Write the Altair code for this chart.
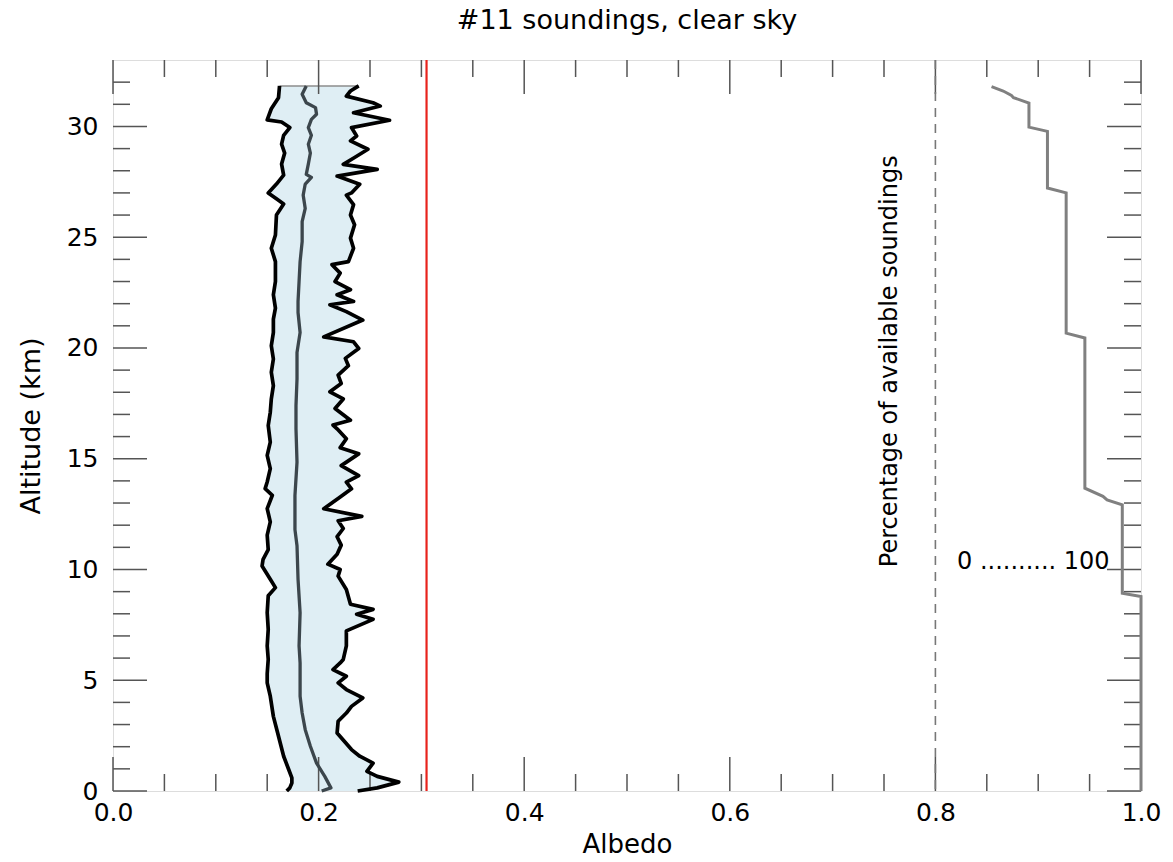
import altair as alt
import pandas as pd

# ---------------- data ----------------
left_alt = [31.83, 31.3, 30.8, 30.3, 30.2, 29.95, 29.6, 29.2, 28.8, 28.3, 27.8, 27.4, 27.0, 26.7,
            26.5, 26.0, 25.1, 24.5, 23.9, 23.0, 22.4, 21.8, 21.3, 20.7, 20.1, 19.5, 18.9, 18.3,
            17.7, 17.1, 16.5, 15.75, 15.15, 14.55, 13.95, 13.65, 13.35, 12.75, 12.15, 11.55,
            10.9, 10.46, 10.16, 9.56, 9.18, 8.81, 8.05, 7.3, 6.55, 5.94, 5.3, 4.88, 4.28, 3.37,
            2.47, 1.57, 0.96, 0.59, 0.36, 0.14, 0.0]
left_val = [0.162, 0.161, 0.154, 0.150, 0.164, 0.172, 0.166, 0.164, 0.167, 0.164, 0.166, 0.159,
            0.151, 0.160, 0.166, 0.159, 0.158, 0.154, 0.158, 0.158, 0.156, 0.158, 0.156, 0.156,
            0.154, 0.156, 0.154, 0.156, 0.154, 0.153, 0.151, 0.153, 0.150, 0.153, 0.150, 0.148,
            0.155, 0.150, 0.153, 0.150, 0.151, 0.146, 0.145, 0.153, 0.158, 0.151, 0.150, 0.151,
            0.150, 0.151, 0.150, 0.150, 0.153, 0.156, 0.161, 0.166, 0.171, 0.174, 0.174, 0.172,
            0.169]

med_alt = [31.83, 31.45, 31.07, 30.85, 30.55, 30.32, 29.95, 29.6, 29.2, 28.8, 28.3, 27.84, 27.7,
           27.4, 26.9, 26.3, 25.7, 24.8, 23.9, 23.0, 22.1, 21.6, 20.7, 19.8, 18.6, 17.4, 16.35,
           14.85, 13.34, 11.8, 11.07, 9.56, 8.05, 6.55, 5.78, 4.28, 3.52, 2.77, 2.02, 1.26, 0.66,
           0.14, 0.0]
med_val = [0.188, 0.184, 0.188, 0.197, 0.198, 0.193, 0.190, 0.193, 0.190, 0.192, 0.190, 0.188,
           0.193, 0.187, 0.185, 0.187, 0.184, 0.184, 0.182, 0.181, 0.180, 0.180, 0.182, 0.179,
           0.179, 0.178, 0.178, 0.179, 0.177, 0.177, 0.179, 0.180, 0.182, 0.181, 0.182, 0.182,
           0.184, 0.187, 0.192, 0.198, 0.206, 0.212, 0.203]

right_alt = [31.83, 31.6, 31.37, 31.07, 30.92, 30.62, 30.28, 29.95, 29.57, 29.35, 28.97, 28.6,
             28.29, 28.06, 27.76, 27.39, 27.0, 26.9, 26.47, 26.0, 25.56, 24.96, 24.5, 23.9,
             23.76, 23.38, 23.0, 22.63, 22.4, 22.1, 21.95, 21.64, 21.26, 20.5, 20.28, 19.98,
             19.53, 19.2, 18.77, 18.4, 18.02, 17.7, 17.27, 16.74, 16.52, 16.35, 15.9, 15.5,
             15.22, 14.69, 14.24, 13.94, 13.64, 13.27, 12.74, 12.4, 12.2, 11.85, 11.48, 11.1,
             10.69, 10.24, 10.0, 9.7, 9.1, 8.43, 8.2, 7.98, 7.75, 7.23, 6.55, 5.94, 5.78, 5.48,
             5.18, 4.88, 4.58, 4.2, 3.82, 3.52, 3.15, 2.62, 1.87, 1.57, 1.26, 0.89, 0.66, 0.4,
             0.14, 0.0]
right_val = [0.239, 0.231, 0.227, 0.253, 0.260, 0.234, 0.269, 0.232, 0.237, 0.231, 0.248, 0.235,
             0.224, 0.257, 0.218, 0.240, 0.232, 0.227, 0.234, 0.231, 0.235, 0.231, 0.234, 0.229,
             0.213, 0.221, 0.216, 0.231, 0.218, 0.234, 0.211, 0.227, 0.243, 0.205, 0.234, 0.239,
             0.226, 0.229, 0.219, 0.222, 0.211, 0.224, 0.216, 0.231, 0.214, 0.218, 0.227, 0.221,
             0.239, 0.222, 0.239, 0.227, 0.232, 0.221, 0.205, 0.242, 0.219, 0.224, 0.218, 0.222,
             0.218, 0.209, 0.221, 0.219, 0.227, 0.231, 0.253, 0.237, 0.253, 0.227, 0.227, 0.224,
             0.221, 0.214, 0.227, 0.219, 0.227, 0.243, 0.232, 0.227, 0.219, 0.218, 0.232, 0.240,
             0.253, 0.247, 0.257, 0.278, 0.257, 0.238]

pct_alt = [31.8, 31.6, 31.4, 31.3, 31.06, 29.97, 29.78, 27.22, 27.0, 20.67, 20.45, 13.67, 13.3,
           13.14, 12.92, 8.93, 8.78, 0.0]
pct_val = [27.3, 33.0, 37.0, 38.0, 45.5, 45.5, 54.5, 54.5, 63.6, 63.6, 72.7, 72.7, 81.5, 83.5,
           90.9, 90.9, 100.0, 100.0]

red_line_x = [0.305]
pct_zero_x = [0.8]

x_major = [0.0, 0.2, 0.4, 0.6, 0.8, 1.0]
x_minor = [0.05, 0.1, 0.15, 0.25, 0.3, 0.35, 0.45, 0.5, 0.55, 0.65, 0.7, 0.75, 0.85, 0.9, 0.95]
y_major = [0, 5, 10, 15, 20, 25, 30]
y_minor = [v for v in range(1, 33) if v % 5 != 0]

# ---------------- layout ----------------
W, H = 1028, 731
FONT = "DejaVu Sans"
MAJ, MIN = 34, 17
TICK_COLOR = "#555555"

xs = alt.Scale(domain=[0, 1], nice=False, zero=False)
ys = alt.Scale(domain=[0, 33], nice=False, zero=False)

x_axis = alt.Axis(values=x_major, format=".1f", ticks=False, domain=False, grid=False,
                  labelFontSize=25, labelFont=FONT, labelColor="black", labelPadding=9,
                  labelFlush=False, labelOverlap=False,
                  title="Albedo", titleFont=FONT, titleFontSize=26, titleFontWeight="normal",
                  titleColor="black", titlePadding=6)
y_axis = alt.Axis(values=y_major, format="d", ticks=False, domain=False, grid=False,
                  labelFontSize=25, labelFont=FONT, labelColor="black", labelPadding=15,
                  labelFlush=False, labelOverlap=False,
                  title="Altitude (km)", titleFont=FONT, titleFontSize=27,
                  titleFontWeight="normal", titleColor="black", titlePadding=21)


def X(field):
    return alt.X(field, type="quantitative", scale=xs, axis=x_axis)


def Y(field):
    return alt.Y(field, type="quantitative", scale=ys, axis=y_axis)


def line_df(alts, vals):
    return pd.DataFrame({"alt": alts, "val": vals, "i": list(range(len(alts)))})


left_df = line_df(left_alt, left_val)
med_df = line_df(med_alt, med_val)
right_df = line_df(right_alt, right_val)

poly_alt = left_alt + right_alt[::-1]
poly_val = left_val + right_val[::-1]
poly_df = line_df(poly_alt, poly_val)

top_df = line_df([left_alt[0], right_alt[0]], [left_val[0], right_val[0]])

pct_df = pd.DataFrame({"alt": pct_alt, "pct": pct_val, "i": list(range(len(pct_alt)))})

fill = alt.Chart(poly_df).mark_line(filled=True, fill="#dfeef4", strokeWidth=0).encode(
    x=X("val"), y=Y("alt"), order=alt.Order("i:Q"))

top_edge = alt.Chart(top_df).mark_line(color="#8c8c8c", strokeWidth=1.5).encode(
    x=X("val"), y=Y("alt"), order=alt.Order("i:Q"))


def prof(df, color, width):
    return alt.Chart(df).mark_line(color=color, strokeWidth=width, strokeJoin="round").encode(
        x=X("val"), y=Y("alt"), order=alt.Order("i:Q"))


left_line = prof(left_df, "black", 3.7)
right_line = prof(right_df, "black", 3.7)
med_line = prof(med_df, "#3c464c", 3.3)

red = alt.Chart(pd.DataFrame({"x": red_line_x})).mark_rule(color="#e8231c", strokeWidth=2.2).encode(
    x=X("x"))
dashed = alt.Chart(pd.DataFrame({"x": pct_zero_x})).mark_rule(
    color="#777777", strokeWidth=1.6, strokeDash=[9, 7]).encode(x=X("x"))

pct_line = alt.Chart(pct_df).transform_calculate(
    px="0.8 + datum.pct / 100 * 0.2").mark_line(color="#808080", strokeWidth=3).encode(
    x=X("px:Q"), y=Y("alt"), order=alt.Order("i:Q"))

label_rot = alt.Chart(pd.DataFrame({"x": [0.756], "y": [19.4], "t": ["Percentage of available soundings"]})
                      ).mark_text(angle=270, fontSize=24, font=FONT, color="black",
                                  align="center", baseline="middle").encode(
    x=X("x"), y=Y("y"), text="t:N")
label_scale = alt.Chart(pd.DataFrame({"x": [0.821], "y": [10.34], "t": ["0 .......... 100"]})
                        ).mark_text(fontSize=24, font=FONT, color="black",
                                    align="left", baseline="middle").encode(
    x=X("x"), y=Y("y"), text="t:N")

# inward ticks on all four sides
def xticks(values, length, bottom):
    df = pd.DataFrame({"v": values})
    if bottom:
        return alt.Chart(df).mark_rule(color=TICK_COLOR, strokeWidth=1.5).encode(
            x=X("v"), y=alt.value(H), y2=alt.value(H - length))
    return alt.Chart(df).mark_rule(color=TICK_COLOR, strokeWidth=1.5).encode(
        x=X("v"), y=alt.value(0), y2=alt.value(length))


def yticks(values, length, left):
    df = pd.DataFrame({"v": values})
    if left:
        return alt.Chart(df).mark_rule(color=TICK_COLOR, strokeWidth=1.5).encode(
            y=Y("v"), x=alt.value(0), x2=alt.value(length))
    return alt.Chart(df).mark_rule(color=TICK_COLOR, strokeWidth=1.5).encode(
        y=Y("v"), x=alt.value(W), x2=alt.value(W - length))


ticks = [xticks(x_major, MAJ, True), xticks(x_minor, MIN, True),
         xticks(x_major, MAJ, False), xticks(x_minor, MIN, False),
         yticks(y_major, MAJ, True), yticks(y_minor, MIN, True),
         yticks(y_major, MAJ, False), yticks(y_minor, MIN, False)]

chart = alt.layer(
    fill, top_edge, *ticks, red, dashed, pct_line, left_line, right_line, med_line,
    label_rot, label_scale
).properties(
    width=W, height=H,
    title=alt.Title("#11 soundings, clear sky", font=FONT, fontSize=27, fontWeight="normal",
                    color="black", anchor="middle", offset=24),
    autosize=alt.AutoSizeParams(type="none"),
    padding={"left": 113, "top": 60, "right": 32, "bottom": 71},
).configure_view(stroke="#555555", strokeWidth=1.5).configure(background="white")

chart.save("out.html", embed_options={"renderer": "svg", "actions": False})
